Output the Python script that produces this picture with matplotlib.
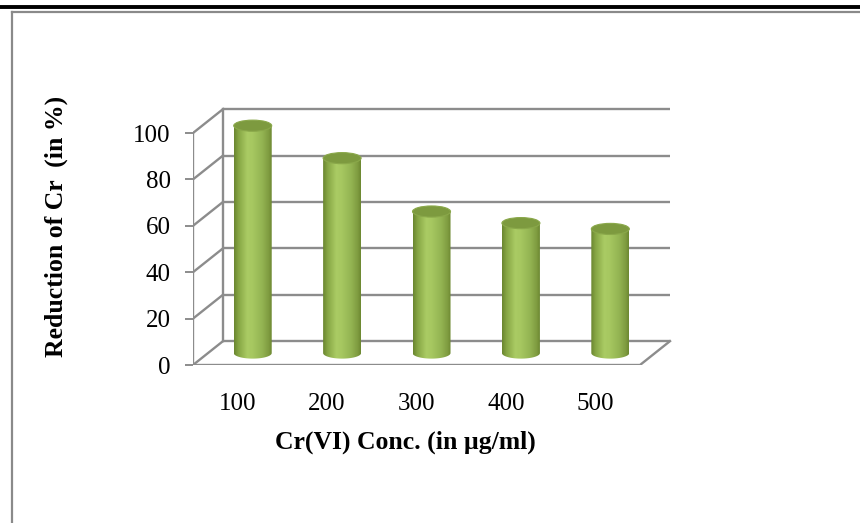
import numpy as np
import matplotlib
matplotlib.use("Agg")
import matplotlib.pyplot as plt
from matplotlib.path import Path
from matplotlib.patches import PathPatch, Ellipse
from matplotlib.colors import LinearSegmentedColormap
from matplotlib.lines import Line2D

categories = ["100", "200", "300", "400", "500"]
values = [98, 84, 61, 56, 53.5]
yticks = [0, 20, 40, 60, 80, 100]

W, H = 860, 523
fig = plt.figure(figsize=(W / 100, H / 100), dpi=100)
fig.patch.set_facecolor("white")

# axes: front plane mapping
ppx_cat = 89.4
ppx_val = 2.32
ylim = (0, 115)
xlim = (-0.5, 4.9)
left_px, bottom_px = 193, H - 365
ax_w = (xlim[1] - xlim[0]) * ppx_cat
ax_h = (ylim[1] - ylim[0]) * ppx_val
ax = fig.add_axes([left_px / W, bottom_px / H, ax_w / W, ax_h / H])
ax.set_xlim(*xlim)
ax.set_ylim(*ylim)
ax.set_facecolor("none")
for s in ax.spines.values():
    s.set_visible(False)

dx, dy = 0.336, 10.3
grid_c = "#8c8c8c"
glw = 1.7
n = len(categories)
x0, x1 = -0.5, n - 0.5

# back wall gridlines and left wall diagonals
for v in yticks:
    ax.plot([x0 + dx, x1 + dx], [v + dy, v + dy], color=grid_c, lw=glw, zorder=1,
            solid_capstyle="butt")
    ax.plot([x0, x0 + dx], [v, v + dy], color=grid_c, lw=glw, zorder=1)
ax.plot([x0 + dx, x0 + dx], [dy, yticks[-1] + dy], color=grid_c, lw=glw, zorder=1)
# floor
ax.plot([x0, x1, x1 + dx], [0, 0, dy], color=grid_c, lw=glw, zorder=2)
# front axis
ax.plot([x0, x0], [0, yticks[-1]], color=grid_c, lw=glw, zorder=2)

# cylinders
cmap = LinearSegmentedColormap.from_list("cyl", [
    (0.0, "#6a852f"), (0.12, "#86a644"), (0.35, "#aacb64"), (0.5, "#a6c760"),
    (0.75, "#93b352"), (0.92, "#7e9b3f"), (1.0, "#6c8731")])
grad = np.linspace(0, 1, 256).reshape(1, -1)
w = 0.425
eh = 4.8
t = np.linspace(np.pi, 2 * np.pi, 60)
for i, v in enumerate(values):
    xc = i + dx / 2
    base = dy / 2
    top = v + dy / 2
    xs = xc + (w / 2) * np.cos(t)
    ys = base + (eh / 2) * np.sin(t)
    verts = [(xc - w / 2, top)] + list(zip(xs, ys)) + [(xc + w / 2, top), (xc - w / 2, top)]
    codes = [Path.MOVETO] + [Path.LINETO] * (len(verts) - 2) + [Path.CLOSEPOLY]
    body = PathPatch(Path(verts, codes), facecolor="none", edgecolor="none")
    ax.add_patch(body)
    im = ax.imshow(grad, cmap=cmap, extent=[xc - w / 2, xc + w / 2, base - eh, top],
                   aspect="auto", zorder=3, interpolation="bilinear")
    im.set_clip_path(body)
    ax.add_patch(Ellipse((xc, top), w, eh, facecolor="#7d9a3f", edgecolor="#8aa84a",
                         lw=0.8, zorder=4))

ax.set_xlim(*xlim)
ax.set_ylim(*ylim)

serif = ["Liberation Serif", "DejaVu Serif"]
ax.set_yticks(yticks)
ax.set_yticklabels([str(v) for v in yticks], fontsize=18, family=serif)
ax.tick_params(axis="y", direction="out", length=6, width=1.4, color=grid_c, pad=10)
ax.set_xticks(range(n))
ax.set_xticklabels(categories, fontsize=18, family=serif)
ax.tick_params(axis="x", length=0, pad=20)

ax.set_xlabel("Cr(VI) Conc. (in µg/ml)", fontsize=18.5, fontweight="bold", family=serif)
ax.xaxis.set_label_coords((405 - left_px) / ax_w, (H - 431 - bottom_px) / ax_h)
ax.set_ylabel("Reduction of Cr  (in %)", fontsize=18.5, fontweight="bold", family=serif)
ax.yaxis.set_label_coords((68 - left_px) / ax_w, (H - 226 - bottom_px) / ax_h)

# page frame
fig.add_artist(Line2D([0, 1], [1 - 7 / H, 1 - 7 / H], color="black", lw=2.8,
                      transform=fig.transFigure))
fig.add_artist(Line2D([12 / W, 1], [1 - 11.5 / H, 1 - 11.5 / H], color="#8a8a8a", lw=1.6,
                      transform=fig.transFigure))
fig.add_artist(Line2D([12 / W, 12 / W], [0, 1 - 11.5 / H], color="#8a8a8a", lw=1.6,
                      transform=fig.transFigure))

fig.savefig("out.png", dpi=100)
